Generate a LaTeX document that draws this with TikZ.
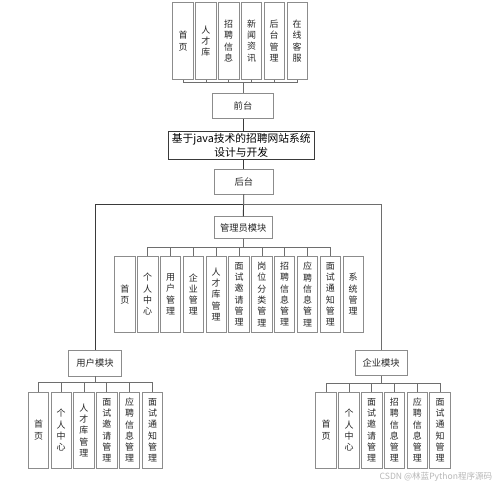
\documentclass[tikz,border=0pt]{standalone}
\usepackage{fontspec}
\setmainfont{Noto Sans CJK SC}
\begin{document}
\begin{tikzpicture}[x=1bp,y=-1bp,
  box/.style={draw=boxgray,line width=0.8bp,inner sep=0pt,text=txt},
  vbox/.style={box,minimum width=20.5bp,minimum height=76.4bp,align=center,
     font=\fontsize{9}{11.3}\selectfont},
  hbox/.style={box,font=\fontsize{9.3}{11}\selectfont},
  conn/.style={draw=linegray,line width=0.8bp},
  main/.style={draw=darkline,line width=0.9bp}]
\definecolor{boxgray}{HTML}{8C8C8C}
\definecolor{linegray}{HTML}{6E6E6E}
\definecolor{darkline}{HTML}{3A3A3A}
\definecolor{txt}{HTML}{262626}
\useasboundingbox[fill=white] (0,0) rectangle (500,486);

% top row
\node[vbox] (t1) at (183.0,41) {首\\页};
\node[vbox] (t2) at (205.9,41) {人\\才\\库};
\node[vbox] (t3) at (228.7,41) {招\\聘\\信\\息};
\node[vbox] (t4) at (251.5,41) {新\\闻\\资\\讯};
\node[vbox] (t5) at (274.2,41) {后\\台\\管\\理};
\node[vbox] (t6) at (297.2,41) {在\\线\\客\\服};

\node[hbox,minimum width=61.4bp,minimum height=25bp] (qt) at (243,105.8) {前台};
\node[box,draw=darkline,text=black,minimum width=146bp,minimum height=28.3bp,align=center,
  font=\fontsize{10.8}{14}\selectfont] (sys) at (241.3,145.2) {基于java技术的招聘网站系统\\设计与开发};
\node[hbox,minimum width=59bp,minimum height=24.7bp] (ht) at (243.8,181.7) {后台};

\foreach \c in {t1,t2,t3,t4,t5,t6}
  \draw[conn] (qt.north) -- ++(0,-10.3) -| (\c.south);
\draw[main] (qt.south) -- (qt.south |- sys.north);
\draw[main] (ht.north) -- (ht.north |- sys.south);

% admin
\node[hbox,minimum width=58.7bp,minimum height=21.6bp] (adm) at (243.3,227.5) {管理员模块};
\draw[main] (ht.south) -- (adm.north);
\node[vbox] (a1) at (124.9,294.3) {首\\页};
\node[vbox] (a2) at (147.7,294.3) {个\\人\\中\\心};
\node[vbox] (a3) at (170.6,294.3) {用\\户\\管\\理};
\node[vbox] (a4) at (193.4,294.3) {企\\业\\管\\理};
\node[vbox] (a5) at (216.2,294.3) {人\\才\\库\\管\\理};
\node[vbox] (a6) at (239.0,294.3) {面\\试\\邀\\请\\管\\理};
\node[vbox] (a7) at (261.9,294.3) {岗\\位\\分\\类\\管\\理};
\node[vbox] (a8) at (284.6,294.3) {招\\聘\\信\\息\\管\\理};
\node[vbox] (a9) at (307.5,294.3) {应\\聘\\信\\息\\管\\理};
\node[vbox] (a10) at (330.3,294.3) {面\\试\\通\\知\\管\\理};
\node[vbox] (a11) at (353.2,294.3) {系\\统\\管\\理};
\foreach \c in {a2,a3,a4,a5,a6,a7,a8,a9,a10}
  \draw[conn] (adm.south) -- ++(0,8.2) -| (\c.north);

% user / enterprise
\node[hbox,minimum width=53.4bp,minimum height=25.3bp] (usr) at (95,363.3) {用户模块};
\node[hbox,minimum width=52.3bp,minimum height=25.7bp] (ent) at (381.2,362.9) {企业模块};
\draw[main] (ht.south) -- ++(0,10.3) -| (usr.north);
\draw[conn] (ht.south) -- ++(0,10.3) -| (ent.north);

\node[vbox] (u1) at (38.5,430.2) {首\\页};
\node[vbox] (u2) at (61.2,430.2) {个\\人\\中\\心};
\node[vbox] (u3) at (83.9,430.2) {人\\才\\库\\管\\理};
\node[vbox] (u4) at (106.8,430.2) {面\\试\\邀\\请\\管\\理};
\node[vbox] (u5) at (129.5,430.2) {应\\聘\\信\\息\\管\\理};
\node[vbox] (u6) at (152.5,430.2) {面\\试\\通\\知\\管\\理};
\foreach \c in {u1,u2,u3,u4,u5,u6}
  \draw[conn] (usr.south) -- ++(0,6.5) -| (\c.north);

\node[vbox] (e1) at (326.0,430.2) {首\\页};
\node[vbox] (e2) at (349.0,430.2) {个\\人\\中\\心};
\node[vbox] (e3) at (371.7,430.2) {面\\试\\邀\\请\\管\\理};
\node[vbox] (e4) at (394.3,430.2) {招\\聘\\信\\息\\管\\理};
\node[vbox] (e5) at (417.3,430.2) {应\\聘\\信\\息\\管\\理};
\node[vbox] (e6) at (440.0,430.2) {面\\试\\通\\知\\管\\理};
\foreach \c in {e1,e2,e3,e4,e5,e6}
  \draw[conn] (ent.south) -- ++(0,6.8) -| (\c.north);

\node[text=black!28,font=\fontsize{8.6}{10}\selectfont,inner sep=0pt] (wm) at (436,476.7) {CSDN @林蓝Python程序源码};
\end{tikzpicture}
\end{document}
